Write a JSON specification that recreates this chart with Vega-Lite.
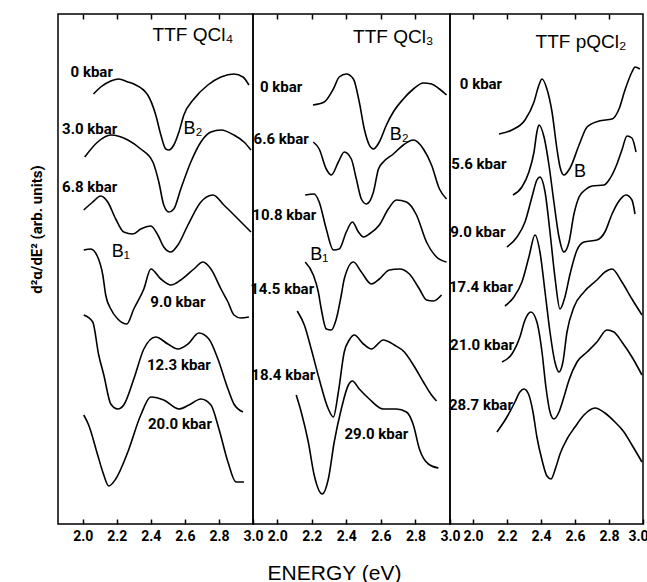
{
  "$schema": "https://vega.github.io/schema/vega-lite/v6.json",
  "padding": {"left": 28, "top": 12, "right": 0, "bottom": 0},
  "background": "white",
  "bounds": "flush",
  "config": {
    "view": {"stroke": "black", "strokeWidth": 1.5},
    "axis": {"grid": false},
    "line": {"color": "black"}
  },
  "datasets": {
    "curves": [
      {"p":"a","c":"a0","e":2.063,"s":430},{"p":"a","c":"a0","e":2.106,"s":437},{"p":"a","c":"a0","e":2.165,"s":443},{"p":"a","c":"a0","e":2.212,"s":445},{"p":"a","c":"a0","e":2.265,"s":442},{"p":"a","c":"a0","e":2.30,"s":440},{"p":"a","c":"a0","e":2.382,"s":429},{"p":"a","c":"a0","e":2.429,"s":409},{"p":"a","c":"a0","e":2.459,"s":389},{"p":"a","c":"a0","e":2.488,"s":375},{"p":"a","c":"a0","e":2.506,"s":374},{"p":"a","c":"a0","e":2.535,"s":379},{"p":"a","c":"a0","e":2.565,"s":392},{"p":"a","c":"a0","e":2.594,"s":409},{"p":"a","c":"a0","e":2.653,"s":425},{"p":"a","c":"a0","e":2.735,"s":439},{"p":"a","c":"a0","e":2.812,"s":447},{"p":"a","c":"a0","e":2.888,"s":450},{"p":"a","c":"a0","e":2.941,"s":447},{"p":"a","c":"a0","e":2.976,"s":439},
      {"p":"a","c":"a1","e":2.012,"s":367},{"p":"a","c":"a1","e":2.088,"s":382},{"p":"a","c":"a1","e":2.165,"s":389},{"p":"a","c":"a1","e":2.265,"s":384},{"p":"a","c":"a1","e":2.341,"s":375},{"p":"a","c":"a1","e":2.412,"s":362},{"p":"a","c":"a1","e":2.447,"s":342},{"p":"a","c":"a1","e":2.476,"s":319},{"p":"a","c":"a1","e":2.506,"s":312},{"p":"a","c":"a1","e":2.535,"s":315},{"p":"a","c":"a1","e":2.576,"s":335},{"p":"a","c":"a1","e":2.635,"s":362},{"p":"a","c":"a1","e":2.694,"s":382},{"p":"a","c":"a1","e":2.753,"s":392},{"p":"a","c":"a1","e":2.812,"s":394},{"p":"a","c":"a1","e":2.888,"s":389},{"p":"a","c":"a1","e":2.947,"s":382},{"p":"a","c":"a1","e":2.988,"s":374},
      {"p":"a","c":"a2","e":2.006,"s":314},{"p":"a","c":"a2","e":2.059,"s":322},{"p":"a","c":"a2","e":2.106,"s":328},{"p":"a","c":"a2","e":2.147,"s":322},{"p":"a","c":"a2","e":2.194,"s":305},{"p":"a","c":"a2","e":2.241,"s":292},{"p":"a","c":"a2","e":2.294,"s":290},{"p":"a","c":"a2","e":2.341,"s":295},{"p":"a","c":"a2","e":2.40,"s":298},{"p":"a","c":"a2","e":2.441,"s":289},{"p":"a","c":"a2","e":2.476,"s":277},{"p":"a","c":"a2","e":2.518,"s":272},{"p":"a","c":"a2","e":2.559,"s":279},{"p":"a","c":"a2","e":2.618,"s":299},{"p":"a","c":"a2","e":2.694,"s":322},{"p":"a","c":"a2","e":2.765,"s":329},{"p":"a","c":"a2","e":2.829,"s":319},{"p":"a","c":"a2","e":2.912,"s":305},{"p":"a","c":"a2","e":2.988,"s":292},
      {"p":"a","c":"a3","e":2.006,"s":274},{"p":"a","c":"a3","e":2.047,"s":275},{"p":"a","c":"a3","e":2.088,"s":267},{"p":"a","c":"a3","e":2.118,"s":249},{"p":"a","c":"a3","e":2.135,"s":229},{"p":"a","c":"a3","e":2.165,"s":215},{"p":"a","c":"a3","e":2.206,"s":205},{"p":"a","c":"a3","e":2.259,"s":200},{"p":"a","c":"a3","e":2.30,"s":215},{"p":"a","c":"a3","e":2.359,"s":235},{"p":"a","c":"a3","e":2.40,"s":255},{"p":"a","c":"a3","e":2.459,"s":245},{"p":"a","c":"a3","e":2.518,"s":239},{"p":"a","c":"a3","e":2.576,"s":244},{"p":"a","c":"a3","e":2.653,"s":255},{"p":"a","c":"a3","e":2.706,"s":262},{"p":"a","c":"a3","e":2.753,"s":255},{"p":"a","c":"a3","e":2.812,"s":235},{"p":"a","c":"a3","e":2.853,"s":222},{"p":"a","c":"a3","e":2.888,"s":209},{"p":"a","c":"a3","e":2.929,"s":206},{"p":"a","c":"a3","e":2.976,"s":207},
      {"p":"a","c":"a4","e":2.006,"s":209},{"p":"a","c":"a4","e":2.059,"s":202},{"p":"a","c":"a4","e":2.094,"s":169},{"p":"a","c":"a4","e":2.124,"s":149},{"p":"a","c":"a4","e":2.165,"s":120},{"p":"a","c":"a4","e":2.206,"s":115},{"p":"a","c":"a4","e":2.241,"s":119},{"p":"a","c":"a4","e":2.30,"s":145},{"p":"a","c":"a4","e":2.359,"s":175},{"p":"a","c":"a4","e":2.429,"s":187},{"p":"a","c":"a4","e":2.50,"s":180},{"p":"a","c":"a4","e":2.559,"s":175},{"p":"a","c":"a4","e":2.618,"s":180},{"p":"a","c":"a4","e":2.682,"s":191},{"p":"a","c":"a4","e":2.741,"s":185},{"p":"a","c":"a4","e":2.794,"s":165},{"p":"a","c":"a4","e":2.853,"s":135},{"p":"a","c":"a4","e":2.888,"s":120},{"p":"a","c":"a4","e":2.941,"s":112},
      {"p":"a","c":"a5","e":2.006,"s":109},{"p":"a","c":"a5","e":2.035,"s":99},{"p":"a","c":"a5","e":2.088,"s":69},{"p":"a","c":"a5","e":2.118,"s":52},{"p":"a","c":"a5","e":2.153,"s":38},{"p":"a","c":"a5","e":2.194,"s":45},{"p":"a","c":"a5","e":2.265,"s":72},{"p":"a","c":"a5","e":2.341,"s":109},{"p":"a","c":"a5","e":2.40,"s":127},{"p":"a","c":"a5","e":2.476,"s":124},{"p":"a","c":"a5","e":2.565,"s":115},{"p":"a","c":"a5","e":2.624,"s":119},{"p":"a","c":"a5","e":2.694,"s":125},{"p":"a","c":"a5","e":2.753,"s":119},{"p":"a","c":"a5","e":2.80,"s":95},{"p":"a","c":"a5","e":2.853,"s":62},{"p":"a","c":"a5","e":2.90,"s":42},{"p":"a","c":"a5","e":2.947,"s":42},

      {"p":"b","c":"b0","e":2.207,"s":419},{"p":"b","c":"b0","e":2.272,"s":422},{"p":"b","c":"b0","e":2.325,"s":435},{"p":"b","c":"b0","e":2.359,"s":447},{"p":"b","c":"b0","e":2.40,"s":450},{"p":"b","c":"b0","e":2.441,"s":445},{"p":"b","c":"b0","e":2.475,"s":422},{"p":"b","c":"b0","e":2.504,"s":395},{"p":"b","c":"b0","e":2.533,"s":379},{"p":"b","c":"b0","e":2.557,"s":375},{"p":"b","c":"b0","e":2.591,"s":382},{"p":"b","c":"b0","e":2.632,"s":399},{"p":"b","c":"b0","e":2.672,"s":412},{"p":"b","c":"b0","e":2.73,"s":425},{"p":"b","c":"b0","e":2.788,"s":435},{"p":"b","c":"b0","e":2.846,"s":441},{"p":"b","c":"b0","e":2.893,"s":440},{"p":"b","c":"b0","e":2.939,"s":435},{"p":"b","c":"b0","e":2.98,"s":429},
      {"p":"b","c":"b1","e":2.209,"s":382},{"p":"b","c":"b1","e":2.243,"s":375},{"p":"b","c":"b1","e":2.284,"s":355},{"p":"b","c":"b1","e":2.313,"s":349},{"p":"b","c":"b1","e":2.354,"s":362},{"p":"b","c":"b1","e":2.388,"s":372},{"p":"b","c":"b1","e":2.429,"s":365},{"p":"b","c":"b1","e":2.458,"s":345},{"p":"b","c":"b1","e":2.487,"s":325},{"p":"b","c":"b1","e":2.516,"s":320},{"p":"b","c":"b1","e":2.557,"s":332},{"p":"b","c":"b1","e":2.586,"s":355},{"p":"b","c":"b1","e":2.614,"s":362},{"p":"b","c":"b1","e":2.672,"s":370},{"p":"b","c":"b1","e":2.73,"s":379},{"p":"b","c":"b1","e":2.788,"s":384},{"p":"b","c":"b1","e":2.846,"s":375},{"p":"b","c":"b1","e":2.893,"s":359},{"p":"b","c":"b1","e":2.939,"s":335},{"p":"b","c":"b1","e":2.98,"s":325},
      {"p":"b","c":"b2","e":2.162,"s":329},{"p":"b","c":"b2","e":2.214,"s":330},{"p":"b","c":"b2","e":2.243,"s":322},{"p":"b","c":"b2","e":2.284,"s":295},{"p":"b","c":"b2","e":2.325,"s":274},{"p":"b","c":"b2","e":2.359,"s":275},{"p":"b","c":"b2","e":2.40,"s":292},{"p":"b","c":"b2","e":2.435,"s":302},{"p":"b","c":"b2","e":2.47,"s":292},{"p":"b","c":"b2","e":2.499,"s":287},{"p":"b","c":"b2","e":2.533,"s":290},{"p":"b","c":"b2","e":2.591,"s":299},{"p":"b","c":"b2","e":2.643,"s":315},{"p":"b","c":"b2","e":2.69,"s":324},{"p":"b","c":"b2","e":2.748,"s":322},{"p":"b","c":"b2","e":2.806,"s":309},{"p":"b","c":"b2","e":2.864,"s":282},{"p":"b","c":"b2","e":2.922,"s":267},{"p":"b","c":"b2","e":2.98,"s":262},
      {"p":"b","c":"b3","e":2.162,"s":262},{"p":"b","c":"b3","e":2.209,"s":249},{"p":"b","c":"b3","e":2.238,"s":232},{"p":"b","c":"b3","e":2.255,"s":215},{"p":"b","c":"b3","e":2.284,"s":195},{"p":"b","c":"b3","e":2.313,"s":194},{"p":"b","c":"b3","e":2.342,"s":205},{"p":"b","c":"b3","e":2.371,"s":229},{"p":"b","c":"b3","e":2.388,"s":245},{"p":"b","c":"b3","e":2.441,"s":262},{"p":"b","c":"b3","e":2.487,"s":252},{"p":"b","c":"b3","e":2.545,"s":240},{"p":"b","c":"b3","e":2.591,"s":245},{"p":"b","c":"b3","e":2.649,"s":254},{"p":"b","c":"b3","e":2.707,"s":255},{"p":"b","c":"b3","e":2.765,"s":250},{"p":"b","c":"b3","e":2.823,"s":235},{"p":"b","c":"b3","e":2.864,"s":224},{"p":"b","c":"b3","e":2.904,"s":223},{"p":"b","c":"b3","e":2.951,"s":229},
      {"p":"b","c":"b4","e":2.116,"s":213},{"p":"b","c":"b4","e":2.157,"s":199},{"p":"b","c":"b4","e":2.197,"s":175},{"p":"b","c":"b4","e":2.243,"s":145},{"p":"b","c":"b4","e":2.296,"s":115},{"p":"b","c":"b4","e":2.325,"s":107},{"p":"b","c":"b4","e":2.354,"s":132},{"p":"b","c":"b4","e":2.388,"s":172},{"p":"b","c":"b4","e":2.417,"s":184},{"p":"b","c":"b4","e":2.446,"s":189},{"p":"b","c":"b4","e":2.499,"s":180},{"p":"b","c":"b4","e":2.545,"s":175},{"p":"b","c":"b4","e":2.614,"s":184},{"p":"b","c":"b4","e":2.678,"s":179},{"p":"b","c":"b4","e":2.736,"s":172},{"p":"b","c":"b4","e":2.788,"s":159},{"p":"b","c":"b4","e":2.846,"s":142},{"p":"b","c":"b4","e":2.893,"s":129},{"p":"b","c":"b4","e":2.922,"s":123},
      {"p":"b","c":"b5","e":2.11,"s":129},{"p":"b","c":"b5","e":2.139,"s":112},{"p":"b","c":"b5","e":2.18,"s":82},{"p":"b","c":"b5","e":2.214,"s":49},{"p":"b","c":"b5","e":2.261,"s":30},{"p":"b","c":"b5","e":2.296,"s":45},{"p":"b","c":"b5","e":2.33,"s":82},{"p":"b","c":"b5","e":2.371,"s":115},{"p":"b","c":"b5","e":2.412,"s":139},{"p":"b","c":"b5","e":2.435,"s":143},{"p":"b","c":"b5","e":2.475,"s":135},{"p":"b","c":"b5","e":2.533,"s":125},{"p":"b","c":"b5","e":2.614,"s":115},{"p":"b","c":"b5","e":2.69,"s":115},{"p":"b","c":"b5","e":2.748,"s":112},{"p":"b","c":"b5","e":2.788,"s":99},{"p":"b","c":"b5","e":2.823,"s":75},{"p":"b","c":"b5","e":2.875,"s":60},{"p":"b","c":"b5","e":2.933,"s":56},

      {"p":"c","c":"c0","e":2.153,"s":390},{"p":"c","c":"c0","e":2.229,"s":394},{"p":"c","c":"c0","e":2.306,"s":404},{"p":"c","c":"c0","e":2.359,"s":422},{"p":"c","c":"c0","e":2.388,"s":439},{"p":"c","c":"c0","e":2.406,"s":445},{"p":"c","c":"c0","e":2.435,"s":435},{"p":"c","c":"c0","e":2.465,"s":412},{"p":"c","c":"c0","e":2.494,"s":375},{"p":"c","c":"c0","e":2.512,"s":357},{"p":"c","c":"c0","e":2.535,"s":349},{"p":"c","c":"c0","e":2.571,"s":356},{"p":"c","c":"c0","e":2.624,"s":379},{"p":"c","c":"c0","e":2.671,"s":397},{"p":"c","c":"c0","e":2.741,"s":403},{"p":"c","c":"c0","e":2.818,"s":405},{"p":"c","c":"c0","e":2.859,"s":415},{"p":"c","c":"c0","e":2.894,"s":434},{"p":"c","c":"c0","e":2.935,"s":452},{"p":"c","c":"c0","e":2.953,"s":457},{"p":"c","c":"c0","e":2.982,"s":455},
      {"p":"c","c":"c1","e":2.235,"s":329},{"p":"c","c":"c1","e":2.288,"s":337},{"p":"c","c":"c1","e":2.329,"s":352},{"p":"c","c":"c1","e":2.359,"s":372},{"p":"c","c":"c1","e":2.376,"s":392},{"p":"c","c":"c1","e":2.388,"s":399},{"p":"c","c":"c1","e":2.418,"s":387},{"p":"c","c":"c1","e":2.447,"s":359},{"p":"c","c":"c1","e":2.476,"s":322},{"p":"c","c":"c1","e":2.506,"s":287},{"p":"c","c":"c1","e":2.535,"s":272},{"p":"c","c":"c1","e":2.565,"s":282},{"p":"c","c":"c1","e":2.594,"s":310},{"p":"c","c":"c1","e":2.624,"s":327},{"p":"c","c":"c1","e":2.659,"s":334},{"p":"c","c":"c1","e":2.70,"s":338},{"p":"c","c":"c1","e":2.771,"s":339},{"p":"c","c":"c1","e":2.80,"s":344},{"p":"c","c":"c1","e":2.847,"s":360},{"p":"c","c":"c1","e":2.876,"s":374},{"p":"c","c":"c1","e":2.906,"s":388},{"p":"c","c":"c1","e":2.935,"s":386},{"p":"c","c":"c1","e":2.959,"s":372},
      {"p":"c","c":"c2","e":2.20,"s":277},{"p":"c","c":"c2","e":2.259,"s":287},{"p":"c","c":"c2","e":2.306,"s":302},{"p":"c","c":"c2","e":2.347,"s":327},{"p":"c","c":"c2","e":2.376,"s":344},{"p":"c","c":"c2","e":2.394,"s":347},{"p":"c","c":"c2","e":2.424,"s":332},{"p":"c","c":"c2","e":2.453,"s":292},{"p":"c","c":"c2","e":2.482,"s":247},{"p":"c","c":"c2","e":2.512,"s":215},{"p":"c","c":"c2","e":2.541,"s":227},{"p":"c","c":"c2","e":2.571,"s":250},{"p":"c","c":"c2","e":2.612,"s":274},{"p":"c","c":"c2","e":2.653,"s":282},{"p":"c","c":"c2","e":2.729,"s":284},{"p":"c","c":"c2","e":2.776,"s":292},{"p":"c","c":"c2","e":2.818,"s":310},{"p":"c","c":"c2","e":2.859,"s":323},{"p":"c","c":"c2","e":2.90,"s":329},{"p":"c","c":"c2","e":2.935,"s":324},{"p":"c","c":"c2","e":2.953,"s":310},
      {"p":"c","c":"c3","e":2.188,"s":218},{"p":"c","c":"c3","e":2.241,"s":227},{"p":"c","c":"c3","e":2.288,"s":242},{"p":"c","c":"c3","e":2.329,"s":267},{"p":"c","c":"c3","e":2.365,"s":289},{"p":"c","c":"c3","e":2.394,"s":272},{"p":"c","c":"c3","e":2.424,"s":232},{"p":"c","c":"c3","e":2.453,"s":192},{"p":"c","c":"c3","e":2.482,"s":162},{"p":"c","c":"c3","e":2.506,"s":152},{"p":"c","c":"c3","e":2.529,"s":162},{"p":"c","c":"c3","e":2.553,"s":192},{"p":"c","c":"c3","e":2.594,"s":217},{"p":"c","c":"c3","e":2.653,"s":232},{"p":"c","c":"c3","e":2.729,"s":244},{"p":"c","c":"c3","e":2.776,"s":252},{"p":"c","c":"c3","e":2.818,"s":255},{"p":"c","c":"c3","e":2.876,"s":242},{"p":"c","c":"c3","e":2.935,"s":225},{"p":"c","c":"c3","e":2.994,"s":209},
      {"p":"c","c":"c4","e":2.171,"s":162},{"p":"c","c":"c4","e":2.229,"s":170},{"p":"c","c":"c4","e":2.276,"s":187},{"p":"c","c":"c4","e":2.306,"s":204},{"p":"c","c":"c4","e":2.341,"s":212},{"p":"c","c":"c4","e":2.376,"s":202},{"p":"c","c":"c4","e":2.406,"s":172},{"p":"c","c":"c4","e":2.429,"s":137},{"p":"c","c":"c4","e":2.453,"s":112},{"p":"c","c":"c4","e":2.476,"s":105},{"p":"c","c":"c4","e":2.506,"s":112},{"p":"c","c":"c4","e":2.535,"s":127},{"p":"c","c":"c4","e":2.565,"s":144},{"p":"c","c":"c4","e":2.612,"s":162},{"p":"c","c":"c4","e":2.671,"s":172},{"p":"c","c":"c4","e":2.729,"s":182},{"p":"c","c":"c4","e":2.788,"s":194},{"p":"c","c":"c4","e":2.829,"s":192},{"p":"c","c":"c4","e":2.876,"s":182},{"p":"c","c":"c4","e":2.935,"s":167},{"p":"c","c":"c4","e":2.994,"s":149},
      {"p":"c","c":"c5","e":2.141,"s":92},{"p":"c","c":"c5","e":2.20,"s":107},{"p":"c","c":"c5","e":2.247,"s":122},{"p":"c","c":"c5","e":2.276,"s":132},{"p":"c","c":"c5","e":2.30,"s":135},{"p":"c","c":"c5","e":2.329,"s":129},{"p":"c","c":"c5","e":2.353,"s":112},{"p":"c","c":"c5","e":2.376,"s":87},{"p":"c","c":"c5","e":2.406,"s":64},{"p":"c","c":"c5","e":2.435,"s":48},{"p":"c","c":"c5","e":2.459,"s":45},{"p":"c","c":"c5","e":2.488,"s":57},{"p":"c","c":"c5","e":2.512,"s":70},{"p":"c","c":"c5","e":2.553,"s":85},{"p":"c","c":"c5","e":2.60,"s":97},{"p":"c","c":"c5","e":2.653,"s":109},{"p":"c","c":"c5","e":2.718,"s":116},{"p":"c","c":"c5","e":2.776,"s":111},{"p":"c","c":"c5","e":2.835,"s":102},{"p":"c","c":"c5","e":2.888,"s":92},{"p":"c","c":"c5","e":2.935,"s":79},{"p":"c","c":"c5","e":2.994,"s":62}
    ],
    "labels": [
      {"p":"a","k":"t","txt":"TTF QCl₄","e":2.647,"s":489},
      {"p":"a","k":"p","txt":"0 kbar","e":2.053,"s":452},
      {"p":"a","k":"p","txt":"3.0 kbar","e":2.041,"s":395},
      {"p":"a","k":"b","txt":"B₂","e":2.647,"s":395},
      {"p":"a","k":"p","txt":"6.8 kbar","e":2.041,"s":337},
      {"p":"a","k":"b","txt":"B₁","e":2.224,"s":272},
      {"p":"a","k":"p","txt":"9.0 kbar","e":2.559,"s":222},
      {"p":"a","k":"p","txt":"12.3 kbar","e":2.565,"s":159},
      {"p":"a","k":"p","txt":"20.0 kbar","e":2.571,"s":100},
      {"p":"b","k":"t","txt":"TTF QCl₃","e":2.672,"s":487},
      {"p":"b","k":"p","txt":"0 kbar","e":2.023,"s":437},
      {"p":"b","k":"p","txt":"6.6 kbar","e":2.023,"s":385},
      {"p":"b","k":"b","txt":"B₂","e":2.707,"s":389},
      {"p":"b","k":"p","txt":"10.8 kbar","e":2.041,"s":309},
      {"p":"b","k":"b","txt":"B₁","e":2.243,"s":269},
      {"p":"b","k":"p","txt":"14.5 kbar","e":2.029,"s":235},
      {"p":"b","k":"p","txt":"18.4 kbar","e":2.035,"s":149},
      {"p":"b","k":"p","txt":"29.0 kbar","e":2.574,"s":90},
      {"p":"c","k":"t","txt":"TTF pQCl₂","e":2.635,"s":482},
      {"p":"c","k":"p","txt":"0 kbar","e":2.047,"s":440},
      {"p":"c","k":"p","txt":"5.6 kbar","e":2.035,"s":360},
      {"p":"c","k":"b","txt":"B","e":2.629,"s":352},
      {"p":"c","k":"p","txt":"9.0 kbar","e":2.029,"s":292},
      {"p":"c","k":"p","txt":"17.4 kbar","e":2.047,"s":237},
      {"p":"c","k":"p","txt":"21.0 kbar","e":2.053,"s":179},
      {"p":"c","k":"p","txt":"28.7 kbar","e":2.047,"s":119}
    ]
  },
  "spacing": 0,
  "hconcat": [
    {
      "width": 195, "height": 510,
      "resolve": {"axis": {"x": "independent"}},
      "layer": [
        {
          "data": {"name": "curves"},
          "transform": [{"filter": "datum.p == 'a'"}],
          "mark": {"type": "line", "interpolate": "monotone", "color": "black", "strokeWidth": 1.6},
          "encoding": {
            "x": {"field": "e", "type": "quantitative", "scale": {"domain": [1.855, 3.0], "nice": false, "zero": false},
                  "axis": {"orient": "bottom", "values": [2.0, 2.2, 2.4, 2.6, 2.8, 3.0], "format": ".1f", "domain": false, "tickSize": -5, "tickWidth": 1.5, "tickColor": "black", "labelFont": "Roboto", "labelFontWeight": "bold", "labelFontSize": 14, "labelColor": "black", "labelPadding": 10, "labelFlush": false, "labelOverlap": false, "title": null}},
            "y": {"field": "s", "type": "quantitative", "scale": {"domain": [0, 510], "nice": false, "zero": false},
                  "axis": {"title": "d²α/dE²  (arb. units)", "labels": false, "ticks": false, "domain": false, "titleFont": "Roboto", "titleFontWeight": "bold", "titleFontSize": 15, "titleColor": "black", "titlePadding": 14, "titleY": 215}},
            "detail": {"field": "c", "type": "nominal"}
          }
        },
        {
          "data": {"name": "labels"},
          "transform": [{"filter": "datum.p == 'a' && datum.k == 't'"}],
          "mark": {"type": "text", "font": "Liberation Sans", "fontSize": 19, "color": "black", "align": "center", "baseline": "middle"},
          "encoding": {
            "x": {"field": "e", "type": "quantitative", "axis": {"orient": "top", "values": [2.0, 2.2, 2.4, 2.6, 2.8], "labels": false, "domain": false, "tickSize": -5, "tickWidth": 1.5, "tickColor": "black", "title": null}},
            "y": {"field": "s", "type": "quantitative"},
            "text": {"field": "txt"}
          }
        },
        {
          "data": {"name": "labels"},
          "transform": [{"filter": "datum.p == 'a' && datum.k == 'p'"}],
          "mark": {"type": "text", "font": "Roboto", "fontWeight": "bold", "fontSize": 15, "color": "black", "align": "center", "baseline": "middle"},
          "encoding": {
            "x": {"field": "e", "type": "quantitative", "axis": null},
            "y": {"field": "s", "type": "quantitative"},
            "text": {"field": "txt"}
          }
        },
        {
          "data": {"name": "labels"},
          "transform": [{"filter": "datum.p == 'a' && datum.k == 'b'"}],
          "mark": {"type": "text", "font": "Liberation Sans", "fontSize": 18, "color": "black", "align": "center", "baseline": "middle"},
          "encoding": {
            "x": {"field": "e", "type": "quantitative", "axis": null},
            "y": {"field": "s", "type": "quantitative"},
            "text": {"field": "txt"}
          }
        }
      ]
    },
    {
      "width": 197, "height": 510,
      "resolve": {"axis": {"x": "independent"}},
      "layer": [
        {
          "data": {"name": "curves"},
          "transform": [{"filter": "datum.p == 'b'"}],
          "mark": {"type": "line", "interpolate": "monotone", "color": "black", "strokeWidth": 1.6},
          "encoding": {
            "x": {"field": "e", "type": "quantitative", "scale": {"domain": [1.86, 3.0], "nice": false, "zero": false},
                  "axis": {"orient": "bottom", "values": [2.0, 2.2, 2.4, 2.6, 2.8, 3.0], "format": ".1f", "domain": false, "tickSize": -5, "tickWidth": 1.5, "tickColor": "black", "labelFont": "Roboto", "labelFontWeight": "bold", "labelFontSize": 14, "labelColor": "black", "labelPadding": 10, "labelFlush": false, "labelOverlap": false,
                           "title": "ENERGY  (eV)", "titleFont": "Liberation Sans", "titleFontSize": 21, "titleFontWeight": "normal", "titleColor": "black", "titleX": 81, "titleY": 55, "titleBaseline": "alphabetic", "titleAlign": "center"}},
            "y": {"field": "s", "type": "quantitative", "scale": {"domain": [0, 510], "nice": false, "zero": false}, "axis": null},
            "detail": {"field": "c", "type": "nominal"}
          }
        },
        {
          "data": {"name": "labels"},
          "transform": [{"filter": "datum.p == 'b' && datum.k == 't'"}],
          "mark": {"type": "text", "font": "Liberation Sans", "fontSize": 19, "color": "black", "align": "center", "baseline": "middle"},
          "encoding": {
            "x": {"field": "e", "type": "quantitative", "axis": {"orient": "top", "values": [2.0, 2.2, 2.4, 2.6, 2.8], "labels": false, "domain": false, "tickSize": -5, "tickWidth": 1.5, "tickColor": "black", "title": null}},
            "y": {"field": "s", "type": "quantitative", "axis": null},
            "text": {"field": "txt"}
          }
        },
        {
          "data": {"name": "labels"},
          "transform": [{"filter": "datum.p == 'b' && datum.k == 'p'"}],
          "mark": {"type": "text", "font": "Roboto", "fontWeight": "bold", "fontSize": 15, "color": "black", "align": "center", "baseline": "middle"},
          "encoding": {
            "x": {"field": "e", "type": "quantitative", "axis": null},
            "y": {"field": "s", "type": "quantitative", "axis": null},
            "text": {"field": "txt"}
          }
        },
        {
          "data": {"name": "labels"},
          "transform": [{"filter": "datum.p == 'b' && datum.k == 'b'"}],
          "mark": {"type": "text", "font": "Liberation Sans", "fontSize": 18, "color": "black", "align": "center", "baseline": "middle"},
          "encoding": {
            "x": {"field": "e", "type": "quantitative", "axis": null},
            "y": {"field": "s", "type": "quantitative", "axis": null},
            "text": {"field": "txt"}
          }
        }
      ]
    },
    {
      "width": 193, "height": 510,
      "resolve": {"axis": {"x": "independent"}},
      "layer": [
        {
          "data": {"name": "curves"},
          "transform": [{"filter": "datum.p == 'c'"}],
          "mark": {"type": "line", "interpolate": "monotone", "color": "black", "strokeWidth": 1.6},
          "encoding": {
            "x": {"field": "e", "type": "quantitative", "scale": {"domain": [1.865, 3.0], "nice": false, "zero": false},
                  "axis": {"orient": "bottom", "values": [2.0, 2.2, 2.4, 2.6, 2.8, 3.0], "format": ".1f", "domain": false, "tickSize": -5, "tickWidth": 1.5, "tickColor": "black", "labelFont": "Roboto", "labelFontWeight": "bold", "labelFontSize": 14, "labelColor": "black", "labelPadding": 10, "labelFlush": true, "labelFlushOffset": 5, "labelOverlap": false, "title": null}},
            "y": {"field": "s", "type": "quantitative", "scale": {"domain": [0, 510], "nice": false, "zero": false}, "axis": null},
            "detail": {"field": "c", "type": "nominal"}
          }
        },
        {
          "data": {"name": "labels"},
          "transform": [{"filter": "datum.p == 'c' && datum.k == 't'"}],
          "mark": {"type": "text", "font": "Liberation Sans", "fontSize": 19, "color": "black", "align": "center", "baseline": "middle"},
          "encoding": {
            "x": {"field": "e", "type": "quantitative", "axis": {"orient": "top", "values": [2.0, 2.2, 2.4, 2.6, 2.8], "labels": false, "domain": false, "tickSize": -5, "tickWidth": 1.5, "tickColor": "black", "title": null}},
            "y": {"field": "s", "type": "quantitative", "axis": null},
            "text": {"field": "txt"}
          }
        },
        {
          "data": {"name": "labels"},
          "transform": [{"filter": "datum.p == 'c' && datum.k == 'p'"}],
          "mark": {"type": "text", "font": "Roboto", "fontWeight": "bold", "fontSize": 15, "color": "black", "align": "center", "baseline": "middle"},
          "encoding": {
            "x": {"field": "e", "type": "quantitative", "axis": null},
            "y": {"field": "s", "type": "quantitative", "axis": null},
            "text": {"field": "txt"}
          }
        },
        {
          "data": {"name": "labels"},
          "transform": [{"filter": "datum.p == 'c' && datum.k == 'b'"}],
          "mark": {"type": "text", "font": "Liberation Sans", "fontSize": 18, "color": "black", "align": "center", "baseline": "middle"},
          "encoding": {
            "x": {"field": "e", "type": "quantitative", "axis": null},
            "y": {"field": "s", "type": "quantitative", "axis": null},
            "text": {"field": "txt"}
          }
        }
      ]
    }
  ]
}
